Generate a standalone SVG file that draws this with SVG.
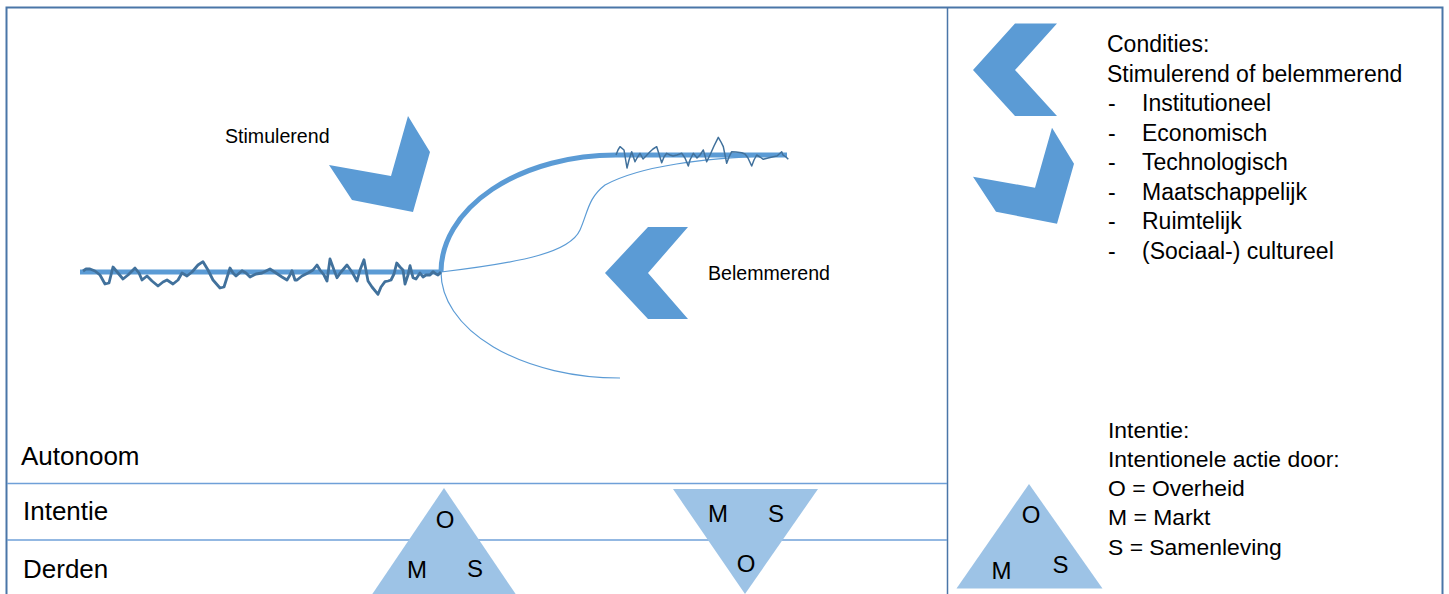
<svg xmlns="http://www.w3.org/2000/svg" width="1449" height="594" viewBox="0 0 1449 594">
<style>
.lbl{font-family:"Liberation Sans",Arial,sans-serif;fill:#000}
.chev{fill:#5b9bd5}
.tri{fill:#9dc3e6}
.thin{fill:none;stroke:#5b9bd5;stroke-width:1.2}
.noise{fill:none;stroke:#41719c;stroke-linejoin:round}
</style>
<rect x="0" y="0" width="1449" height="594" fill="#fff"/>
<g id="frame">
<rect x="6.5" y="7.5" width="1436" height="600" fill="none" stroke="#4a76a8" stroke-width="2"/>
<line x1="947.5" y1="7" x2="947.5" y2="594" stroke="#4a76a8" stroke-width="1.5"/>
<line x1="7" y1="483.5" x2="947" y2="483.5" stroke="#6fa0d8" stroke-width="1.5"/>
<line x1="7" y1="540" x2="947" y2="540" stroke="#6fa0d8" stroke-width="1.5"/>
</g>
<g id="connectors">
<line x1="80" y1="272" x2="441" y2="272" stroke="#5b9bd5" stroke-width="5"/>
<path d="M441,272 A175,117 0 0 1 616,155 L787,155" fill="none" stroke="#5b9bd5" stroke-width="5"/>
<path class="thin" d="M441,272 C525,262 570,252 580,230 C588,212 588,198 605,185 C640,166 700,158 787,155"/>
<path class="thin" d="M441,272 A179,106 0 0 0 620,378"/>
<polyline class="noise" stroke-width="2.8" points="83,271 86,269 90,269 95,271 100,275 105,284 109,283 113,267 118,273 123,279 128,275 135,268 139,273 142,280 147,276 152,281 158,286 163,282 167,280 173,284 178,280 182,273 187,276 192,272 198,265 203,261.7 208,270 213,280 220,288 224,287 230,268 233,273 236,276 242,270.7 246,273 250,277 256,274 262,273 270,269 276,273 282,277 287,280 290,275 292,270.7 295,280 297,280 302,276 308,273 313,270 317,265 320,270 324,275 327,281 330,259 334,270 337,277.7 341,272 347,265 352,272 357,281 360,270 364,259.7 368,281 372,287 378,294.3 381,287 385,281.7 388,281 391,280 394,274 396.7,263 400,267 403,270 405,284 408,275 410,265.7 413,277.7 416,279 418,276 420,273 423,277 426,275 430,275 433,271.7 436,274 438,275 441,272"/>
<polyline class="noise" stroke-width="1.5" points="616,155 618,150 620,146.7 624,150 627,168 629,160 631.7,151.7 635,161.7 637,158 640,153.3 643,159 646,156 650,151.7 653,149 656.7,146.7 659,154 661.7,162.7 664,157 666.7,153.3 670,155 673,156 677,155 681.7,153.3 685,158 688.3,166 690,160 693.3,153.3 697,158 700,155 703.3,150 706.7,161.7 710,155 714,146 718.3,137.3 721,142 723.3,146.7 726.7,163.3 729,157 731.7,151.7 736,152 741.7,152.7 745,154 748,158 751.7,166 754,160 756.7,155 760,157 763.3,159.3 768,158 773.3,156.7 777,156 781.7,151.7 783,155 786,157 788.3,159.3"/>
</g>
<g id="stimulerend">
<polygon class="chev" points="329,165 391,176 408,116 430,152 413,212 352,200"/>
<text class="lbl" x="225" y="143.3" font-size="19.6">Stimulerend</text>
</g>
<g id="belemmerend">
<polygon class="chev" points="605,273 648,227 688,227 648,273 688,319 648,319"/>
<text class="lbl" x="708" y="280" font-size="19.6">Belemmerend</text>
</g>
<g id="legend-condities">
<polygon class="chev" points="973,70 1015,23.5 1057,23.5 1015,70 1057,116 1015,116"/>
<polygon class="chev" points="973,176.7 1035,187.7 1052,127.7 1074,163.7 1057,223.7 996,211.7"/>
<text class="lbl" font-size="23">
<tspan x="1107" y="52">Condities:</tspan>
<tspan x="1107" y="81.5">Stimulerend of belemmerend</tspan>
</text>
<g class="lbl" font-size="23">
<text x="1108" y="111">-</text><text x="1142" y="111">Institutioneel</text>
<text x="1108" y="140.5">-</text><text x="1142" y="140.5">Economisch</text>
<text x="1108" y="170">-</text><text x="1142" y="170">Technologisch</text>
<text x="1108" y="199.5">-</text><text x="1142" y="199.5">Maatschappelijk</text>
<text x="1108" y="229">-</text><text x="1142" y="229">Ruimtelijk</text>
<text x="1108" y="258.5">-</text><text x="1142" y="258.5">(Sociaal-) cultureel</text>
</g>
</g>
<g id="rows">
<text class="lbl" x="21" y="465" font-size="26">Autonoom</text>
<text class="lbl" x="23" y="520" font-size="26">Intentie</text>
<text class="lbl" x="23" y="578" font-size="26">Derden</text>
</g>
<g id="triangle-up">
<polygon class="tri" points="444,488 371,596 517,596"/>
<text class="lbl" x="445" y="528" font-size="24" text-anchor="middle">O</text>
<text class="lbl" x="417" y="578" font-size="24" text-anchor="middle">M</text>
<text class="lbl" x="475" y="577" font-size="24" text-anchor="middle">S</text>
</g>
<g id="triangle-down">
<polygon class="tri" points="673,489 818,489 745,594"/>
<text class="lbl" x="718" y="522" font-size="24" text-anchor="middle">M</text>
<text class="lbl" x="776" y="522" font-size="24" text-anchor="middle">S</text>
<text class="lbl" x="746" y="572" font-size="24" text-anchor="middle">O</text>
</g>
<g id="legend-intentie">
<polygon class="tri" points="1029,484 956.5,588.5 1102.5,588.5"/>
<text class="lbl" x="1031" y="523" font-size="24" text-anchor="middle">O</text>
<text class="lbl" x="1001.5" y="578.5" font-size="24" text-anchor="middle">M</text>
<text class="lbl" x="1060.5" y="572.5" font-size="24" text-anchor="middle">S</text>
<text class="lbl" font-size="22.9">
<tspan x="1108" y="437.5">Intentie:</tspan>
<tspan x="1108" y="466.8">Intentionele actie door:</tspan>
<tspan x="1108" y="496">O = Overheid</tspan>
<tspan x="1108" y="525.3">M = Markt</tspan>
<tspan x="1108" y="554.6">S = Samenleving</tspan>
</text>
</g>
</svg>
